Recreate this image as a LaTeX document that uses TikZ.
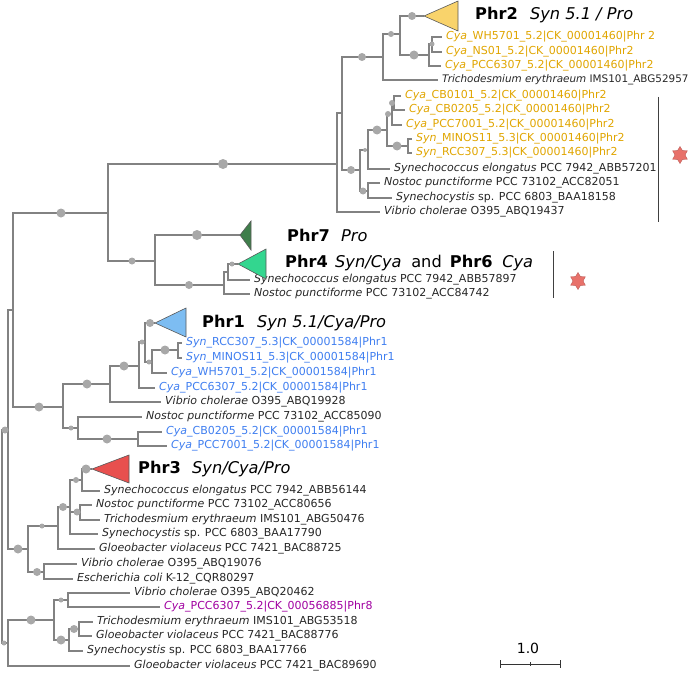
\documentclass[tikz,border=0pt]{standalone}
\usepackage{fontspec}
\setmainfont{DejaVu Sans}
\usetikzlibrary{shapes.geometric}
\definecolor{brc}{HTML}{828282}
\definecolor{dotc}{HTML}{A8A8A8}
\definecolor{ylw}{HTML}{E0A500}
\definecolor{blu}{HTML}{3F7EF0}
\definecolor{pur}{HTML}{A000A0}
\definecolor{txc}{HTML}{262626}
\definecolor{tPhrTwo}{HTML}{F9D36B}
\definecolor{tPhrSeven}{HTML}{3F7E4B}
\definecolor{tPhrFour}{HTML}{33D68F}
\definecolor{tPhrOne}{HTML}{7DBDF2}
\definecolor{tPhrThree}{HTML}{E8504E}
\definecolor{starc}{HTML}{E8716A}
\tikzset{
  edge/.style={draw=brc, line width=1.3pt},
  dotm/.style={fill=dotc},
  leaf/.style={anchor=west, inner xsep=4pt, inner ysep=1pt, font=\fontsize{11}{12}\selectfont, text=txc},
  yleaf/.style={leaf, text=ylw},
  bleaf/.style={leaf, text=blu},
  pleaf/.style={leaf, text=pur},
  clab/.style={anchor=west, inner sep=0pt, font=\fontsize{16.2}{18}\selectfont, text=black},
  tri/.style={draw=black!65, line width=0.6pt},
  vbar/.style={draw=black!75, line width=1pt},
  starm/.style={star, star points=6, star point ratio=1.7, minimum size=17pt, inner sep=0pt, fill=starc, draw=starc!80!black, line width=0.4pt},
}
\begin{document}
\begin{tikzpicture}[x=1pt,y=-1pt]
\useasboundingbox (0,0) rectangle (700,674);
% ---------- internal nodes ----------
\coordinate (u1) at (108,213);
\coordinate (u2) at (337,164);
\coordinate (u3) at (342,113);
\coordinate (u4) at (383,57);
\coordinate (u5) at (400,34);
\coordinate (t2) at (424,16);
\coordinate (u6) at (429,55);
\coordinate (u7) at (432,44);
\coordinate (u8) at (360,170);
\coordinate (u9) at (368,150);
\coordinate (u10) at (387,130);
\coordinate (u11) at (392,114);
\coordinate (u12) at (394,103);
\coordinate (u13) at (408,146);
\coordinate (u14) at (368,191);
\coordinate (m1) at (155,261);
\coordinate (m2) at (224,285);
\coordinate (m3) at (228,272);
\coordinate (t7) at (240,235);
\coordinate (t4) at (238,264);
\coordinate (r0) at (2,536);
\coordinate (ra) at (8,430);
\coordinate (rb) at (13,310);
\coordinate (p1) at (63,407);
\coordinate (p2) at (110,384);
\coordinate (p3) at (139,366);
\coordinate (p4) at (145,342);
\coordinate (t1) at (155,323);
\coordinate (p5) at (152,362);
\coordinate (p6) at (178,350);
\coordinate (p7) at (78,428);
\coordinate (p8) at (138,439);
\coordinate (q1) at (28,549);
\coordinate (q2) at (58,526);
\coordinate (q3) at (70,507);
\coordinate (q4) at (82,480);
\coordinate (t3) at (92,469);
\coordinate (q5) at (80,512);
\coordinate (q6) at (44,572);
\coordinate (s1) at (8,643);
\coordinate (s2) at (54,620);
\coordinate (s3) at (68,600);
\coordinate (s4) at (69,640);
\coordinate (s5) at (79,629);
% ---------- leaves ----------
\node[yleaf] (a1) at (442,37) {\textit{Cya}\_WH5701\_5.2|CK\_00001460|Phr 2};
\node[yleaf] (a2) at (442,52) {\textit{Cya}\_NS01\_5.2|CK\_00001460|Phr2};
\node[yleaf] (a3) at (441,66) {\textit{Cya}\_PCC6307\_5.2|CK\_00001460|Phr2};
\node[leaf, font=\fontsize{10.4}{12}\selectfont] (a4) at (438,80) {\textit{Trichodesmium erythraeum} IMS101\_ABG52957};
\node[yleaf] (a5) at (401,96) {\textit{Cya}\_CB0101\_5.2|CK\_00001460|Phr2};
\node[yleaf] (a6) at (405,110) {\textit{Cya}\_CB0205\_5.2|CK\_00001460|Phr2};
\node[yleaf] (a7) at (402,125) {\textit{Cya}\_PCC7001\_5.2|CK\_00001460|Phr2};
\node[yleaf] (a8) at (412,139) {\textit{Syn}\_MINOS11\_5.3|CK\_00001460|Phr2};
\node[yleaf] (a9) at (412,153) {\textit{Syn}\_RCC307\_5.3|CK\_00001460|Phr2};
\node[leaf] (a10) at (390,169) {\textit{Synechococcus elongatus} PCC 7942\_ABB57201};
\node[leaf] (a11) at (380,183) {\textit{Nostoc punctiforme} PCC 73102\_ACC82051};
\node[leaf] (a12) at (392,198) {\textit{Synechocystis} sp. PCC 6803\_BAA18158};
\node[leaf] (a13) at (380,212) {\textit{Vibrio cholerae} O395\_ABQ19437};
\node[leaf] (b1) at (250,280) {\textit{Synechococcus elongatus} PCC 7942\_ABB57897};
\node[leaf] (b2) at (250,294) {\textit{Nostoc punctiforme} PCC 73102\_ACC84742};
\node[bleaf] (c1) at (182,343) {\textit{Syn}\_RCC307\_5.3|CK\_00001584|Phr1};
\node[bleaf] (c2) at (182,358) {\textit{Syn}\_MINOS11\_5.3|CK\_00001584|Phr1};
\node[bleaf] (c3) at (167,373) {\textit{Cya}\_WH5701\_5.2|CK\_00001584|Phr1};
\node[bleaf] (c4) at (155,388) {\textit{Cya}\_PCC6307\_5.2|CK\_00001584|Phr1};
\node[leaf] (c5) at (161,402) {\textit{Vibrio cholerae} O395\_ABQ19928};
\node[leaf] (c6) at (142,417) {\textit{Nostoc punctiforme} PCC 73102\_ACC85090};
\node[bleaf] (c7) at (162,432) {\textit{Cya}\_CB0205\_5.2|CK\_00001584|Phr1};
\node[bleaf] (c8) at (167,446) {\textit{Cya}\_PCC7001\_5.2|CK\_00001584|Phr1};
\node[leaf] (d1) at (100,491) {\textit{Synechococcus elongatus} PCC 7942\_ABB56144};
\node[leaf] (d2) at (92,505) {\textit{Nostoc punctiforme} PCC 73102\_ACC80656};
\node[leaf] (d3) at (100,520) {\textit{Trichodesmium erythraeum} IMS101\_ABG50476};
\node[leaf] (d4) at (98,534) {\textit{Synechocystis} sp. PCC 6803\_BAA17790};
\node[leaf] (d5) at (95,549) {\textit{Gloeobacter violaceus} PCC 7421\_BAC88725};
\node[leaf] (d6) at (77,564) {\textit{Vibrio cholerae} O395\_ABQ19076};
\node[leaf] (d7) at (73,579) {\textit{Escherichia coli} K-12\_CQR80297};
\node[leaf] (e1) at (130,593) {\textit{Vibrio cholerae} O395\_ABQ20462};
\node[pleaf] (e2) at (160,607) {\textit{Cya}\_PCC6307\_5.2|CK\_00056885|Phr8};
\node[leaf] (e3) at (93,622) {\textit{Trichodesmium erythraeum} IMS101\_ABG53518};
\node[leaf] (e4) at (92,636) {\textit{Gloeobacter violaceus} PCC 7421\_BAC88776};
\node[leaf] (e5) at (83,651) {\textit{Synechocystis} sp. PCC 6803\_BAA17766};
\node[leaf] (e6) at (130,666) {\textit{Gloeobacter violaceus} PCC 7421\_BAC89690};
% ---------- edges ----------
\foreach \p/\c in {u1/u2,u1/m1,u2/u3,u3/u4,u3/u8,u4/u5,u5/t2,u5/u6,u6/u7,u8/u9,u8/u14,u9/u10,u10/u11,u10/u13,u11/u12,
  m1/t7,m1/m2,m2/m3,m3/t4,rb/u1,rb/p1,ra/rb,ra/q1,r0/ra,r0/s1,
  p1/p2,p1/p7,p2/p3,p3/p4,p4/t1,p4/p5,p5/p6,p7/p8,
  q1/q2,q1/q6,q2/q3,q3/q4,q3/q5,q4/t3,s1/s2,s2/s3,s2/s4,s4/s5}
  \draw[edge] (\p) |- (\c);
\foreach \p/\c in {u2/a13,u4/a4,u6/a3,u7/a1,u7/a2,u9/a10,u11/a7,u12/a5,u12/a6,u13/a8,u13/a9,u14/a11,u14/a12,
  m2/b2,m3/b1,p2/c5,p3/c4,p5/c3,p6/c1,p6/c2,p7/c6,p8/c7,p8/c8,
  q2/d5,q3/d4,q4/d1,q5/d2,q5/d3,q6/d6,q6/d7,s1/e6,s3/e1,s3/e2,s4/e5,s5/e3,s5/e4}
  \draw[edge] (\p) |- (\c.west);
% ---------- collapsed clades ----------
\draw[tri, fill=tPhrTwo] (t2) -- (458,1) -- (458,31) -- cycle;
\draw[tri, fill=tPhrSeven] (t7) -- (251,221) -- (251,250) -- cycle;
\draw[tri, fill=tPhrFour] (t4) -- (266,249) -- (266,279) -- cycle;
\draw[tri, fill=tPhrOne] (t1) -- (186,308) -- (186,337) -- cycle;
\draw[tri, fill=tPhrThree] (t3) -- (129,455) -- (129,483) -- cycle;
\node[clab] (l2) at (475,15) {\textbf{Phr2}\hspace{0.75em}\textit{Syn 5.1 / Pro}};
\node[clab] (l7) at (287,235) {\textbf{Phr7}\hspace{0.7em}\textit{Pro}};
\node[clab] (l4) at (285,263) {\textbf{Phr4}\hspace{0.45em}\textit{Syn/Cya}\hspace{0.6em}and\hspace{0.5em}\textbf{Phr6}\hspace{0.6em}\textit{Cya}};
\node[clab] (l1) at (202,323) {\textbf{Phr1}\hspace{0.75em}\textit{Syn 5.1/Cya/Pro}};
\node[clab] (l3) at (138,469) {\textbf{Phr3}\hspace{0.7em}\textit{Syn/Cya/Pro}};
% ---------- support dots ----------
\foreach \x/\y/\r in {223/164/5,61/213/4.5,362/57/4,391/34/3,412/16/4,414/55/4.5,432/44/2.5,351/170/4,365/150/2,
  377/130/4.5,388/114/3,392/103/3,397/146/4.5,363/191/3.5,132/261/3.5,197/235/5,189/285/4,232/264/2.5,
  39/407/4.5,87/384/4.5,124/366/4.5,142/342/2.5,150/323/4,149/362/2.5,165/350/4.5,71/428/2.5,107/439/4.5,
  18/549/4.5,42/526/2.5,37/572/4,63/507/4,76/480/3,86/469/4.5,77/512/3.5,
  4/643/2.5,31/620/4.5,61/600/2.5,61/640/4.5,74/629/4,5/430/3.5}
  \fill[dotm] (\x,\y) circle (\r pt);
% ---------- bars and stars ----------
\coordinate (b1a) at (658,97); \coordinate (b1b) at (658,222);
\coordinate (b2a) at (553,251); \coordinate (b2b) at (553,298);
\draw[vbar] (b1a) -- (b1b);
\draw[vbar] (b2a) -- (b2b);
\node[starm] (st1) at (680,155) {};
\node[starm] (st2) at (578,281) {};
% ---------- scale ----------
\coordinate (sa) at (500,664); \coordinate (sb) at (560,664);
\draw[black!80, line width=0.9pt] (sa) -- (sb);
\draw[black!80, line width=0.9pt] (500,660) -- (500,668) (560,660) -- (560,668) (530,662) -- (530,666);
\node[font=\fontsize{14}{16}\selectfont] (sl) at (528,648) {1.0};
\end{tikzpicture}
\end{document}
